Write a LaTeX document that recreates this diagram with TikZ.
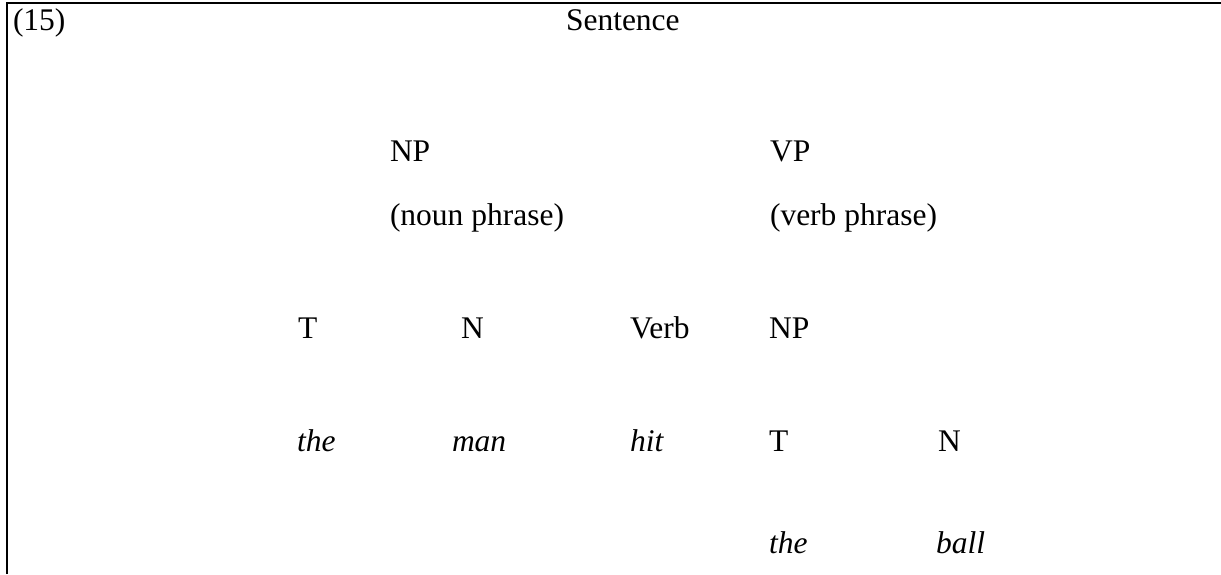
\documentclass[tikz,border=0pt]{standalone}
\usepackage{fontspec}
\setmainfont{Liberation Serif}
\begin{document}
\begin{tikzpicture}[x=0.6pt,y=-0.6pt,
  lbl/.style={anchor=base west,inner sep=0pt,outer sep=0pt,font=\fontsize{18.9}{22}\selectfont},
  it/.style={lbl,font=\fontsize{18.9}{22}\selectfont\itshape},
  frame/.style={line width=1.2pt}]
\useasboundingbox (0,0) rectangle (1221,574);
\draw[frame] (7,574) -- (7,3) -- (1221,3);
\node[lbl] (num) at (13,30) {(15)};
\node[lbl] (s) at (566,30) {Sentence};
\node[lbl] (np) at (390,161) {NP};
\node[lbl] (npg) at (390,225) {(noun phrase)};
\node[lbl] (vp) at (770,161) {VP};
\node[lbl] (vpg) at (770,225) {(verb phrase)};
\node[lbl] (t1) at (298,338) {T};
\node[lbl] (n1) at (461,338) {N};
\node[lbl] (verb) at (630,338) {Verb};
\node[lbl] (np2) at (769,338) {NP};
\node[it] (the1) at (297,451) {the};
\node[it] (man) at (452,451) {man};
\node[it] (hit) at (630,451) {hit};
\node[lbl] (t2) at (769,451) {T};
\node[lbl] (n2) at (938,451) {N};
\node[it] (the2) at (769,553) {the};
\node[it] (ball) at (936,553) {ball};
\end{tikzpicture}
\end{document}
